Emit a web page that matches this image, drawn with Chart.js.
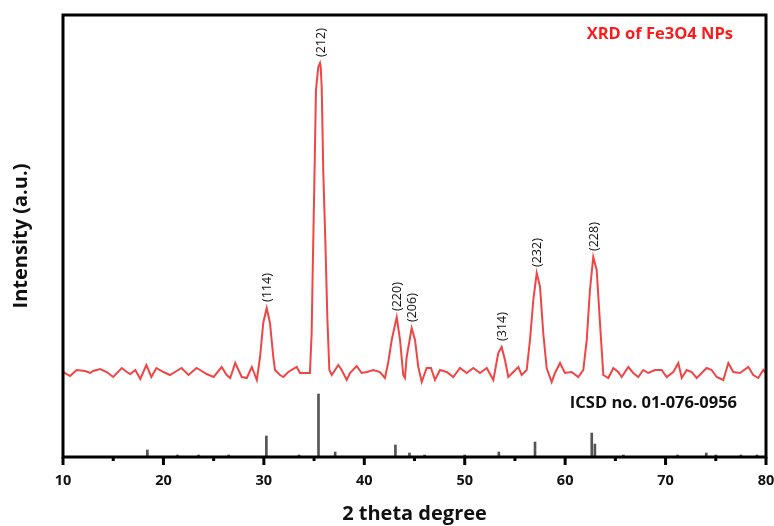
<!DOCTYPE html>
<html>
<head>
<meta charset="utf-8">
<script src="https://cdn.jsdelivr.net/npm/chart.js@4.4.1/dist/chart.umd.min.js"></script>
<style>
  html, body { margin: 0; padding: 0; background: #fff; }
</style>
</head>
<body>
<canvas id="xrdChart" width="774" height="526"></canvas>
<script>
// measured pattern (2 theta, intensity a.u.)
var twoTheta = [10.0, 10.03, 10.7, 11.36, 12.2, 12.7, 13.0, 13.7, 14.35, 15.0, 15.85, 16.35, 16.7, 17.2, 17.7,
    18.3, 18.8, 19.3, 20.0, 20.65, 21.15, 21.8, 22.5, 23.3, 23.65, 24.3, 25.0, 25.8, 26.3, 26.65, 27.15, 27.8,
    28.3, 28.8, 29.3, 29.62, 29.94, 30.28, 30.61, 30.94, 31.11, 31.61, 31.94, 32.43, 33.27, 33.6, 34.59, 34.76,
    34.86, 35.02, 35.19, 35.42, 35.59, 35.66, 35.76, 35.92, 36.12, 36.32, 36.52, 36.76, 37.41, 37.75, 38.25,
    38.58, 39.24, 39.74, 40.27, 40.9, 41.56, 42.06, 42.39, 42.73, 43.23, 43.56, 43.88, 44.05, 44.22, 44.72,
    45.05, 45.38, 45.72, 46.21, 46.64, 47.04, 47.54, 48.21, 48.86, 49.53, 50.2, 50.85, 51.52, 52.19, 52.85,
    53.34, 53.68, 54.01, 54.34, 54.84, 55.34, 55.67, 56.17, 56.5, 56.83, 57.17, 57.5, 57.82, 58.16, 58.66,
    58.99, 59.49, 59.98, 60.65, 61.31, 61.81, 62.15, 62.47, 62.8, 63.14, 63.47, 63.8, 64.3, 64.8, 65.29,
    65.63, 66.29, 66.79, 67.28, 67.78, 68.28, 68.95, 69.61, 70.11, 70.77, 71.27, 71.61, 72.1, 72.6, 73.1,
    73.6, 74.09, 74.59, 75.09, 75.75, 76.25, 76.74, 77.41, 78.24, 78.73, 79.23, 79.73, 80.0];
var intensity = [84, 85, 81, 87, 86, 84, 86, 88, 85, 80, 89, 85, 83, 87, 78,
    92, 80, 89, 85, 82, 85, 89, 82, 89, 87, 83, 80, 90, 82, 79, 94, 80,
    79, 90, 77, 100, 134, 149, 134, 100, 87, 82, 80, 85, 90, 84, 84, 124,
    184, 270, 367, 390, 394, 390, 370, 284, 217, 140, 87, 82, 92, 87, 77,
    84, 91, 84, 85, 87, 85, 79, 95, 117, 140, 117, 82, 79, 100, 129,
    117, 90, 75, 89, 89, 77, 87, 85, 80, 89, 84, 89, 84, 89, 77,
    104, 110, 97, 80, 85, 90, 82, 87, 117, 157, 184, 170, 124, 89, 75,
    84, 94, 84, 85, 80, 87, 117, 167, 200, 187, 134, 82, 79, 89, 85,
    80, 90, 84, 80, 87, 84, 87, 87, 80, 85, 94, 79, 87, 85, 79,
    84, 89, 87, 80, 77, 94, 85, 84, 90, 82, 79, 87, 84];

// reference pattern ICSD 01-076-0956
var stickPos = [18.4, 21.4, 23.5, 26.5, 30.25, 33.5, 35.44, 37.1, 43.1, 44.5, 46.0, 50.0, 53.4, 57.0,
    62.65, 62.96, 65.8, 71.2, 74.05, 75.0, 77.5, 79.1];
var stickInt = [7, 2, 2, 2, 21, 2, 63, 5, 12, 4, 2, 2, 5, 15, 24, 13, 2, 2, 4, 2, 2, 2];

// indexed peaks
var peakHkl = ['(114)', '(212)', '(220)', '(206)', '(314)', '(232)', '(228)'];
var peakPos = [30.28, 35.59, 43.23, 44.72, 53.68, 57.17, 62.8];
var peakTop = [149, 394, 140, 129, 110, 184, 200];

var xTicks = [10, 20, 30, 40, 50, 60, 70, 80];

var fontFam = '"Open Sans", "DejaVu Sans", sans-serif';

var framePlugin = {
    id: 'frame',
    afterDraw: function (chart) {
        var ctx = chart.ctx;
        var a = chart.chartArea;
        var xs = chart.scales.x;
        var ys = chart.scales.y;
        ctx.save();

        // peak labels, rotated, reading upward
        ctx.fillStyle = '#111';
        ctx.font = '12.5px ' + fontFam;
        ctx.textAlign = 'left';
        ctx.textBaseline = 'middle';
        for (var i = 0; i < peakHkl.length; i++) {
            var px = xs.getPixelForValue(peakPos[i]);
            var py = ys.getPixelForValue(peakTop[i]);
            ctx.save();
            ctx.translate(px + 1, py - 6);
            ctx.rotate(-Math.PI / 2);
            ctx.fillText(peakHkl[i], 0, 0);
            ctx.restore();
        }

        // texts
        ctx.textAlign = 'right';
        ctx.textBaseline = 'middle';
        ctx.font = 'bold 16.5px ' + fontFam;
        ctx.fillStyle = '#ff1a1a';
        ctx.fillText('XRD of Fe3O4 NPs', a.right - 33, a.top + 19);
        ctx.fillStyle = '#111';
        ctx.fillText('ICSD no. 01-076-0956', a.right - 29, ys.getPixelForValue(54));

        // frame
        ctx.strokeStyle = '#000';
        ctx.lineWidth = 3;
        ctx.strokeRect(a.left, a.top, a.right - a.left, a.bottom - a.top);

        // x ticks, major and minor
        for (var t = 10; t <= 80; t += 5) {
            var tx = xs.getPixelForValue(t);
            var len = (t % 10 === 0) ? 8 : 4;
            ctx.beginPath();
            ctx.moveTo(tx, a.bottom);
            ctx.lineTo(tx, a.bottom + len);
            ctx.stroke();
        }
        ctx.restore();
    }
};

new Chart(document.getElementById('xrdChart'), {
    type: 'line',
    data: {
        datasets: [{
            label: 'Fe3O4',
            data: twoTheta.map(function (t, i) { return { x: t, y: intensity[i] }; }),
            borderColor: '#f04545',
            borderWidth: 2,
            pointRadius: 0,
            tension: 0
        }, {
            type: 'bar',
            label: 'ICSD',
            data: stickPos.map(function (t, i) { return { x: t, y: stickInt[i] }; }),
            backgroundColor: '#555',
            barThickness: 2
        }]
    },
    options: {
        responsive: false,
        animation: false,
        layout: { padding: { top: 15, right: 8, left: 0, bottom: 0 } },
        plugins: {
            legend: { display: false },
            tooltip: { enabled: false }
        },
        scales: {
            x: {
                type: 'linear',
                min: 10,
                max: 80,
                offset: false,
                afterBuildTicks: function (s) { s.ticks = xTicks.map(function (v) { return { value: v }; }); },
                afterFit: function (s) { s.height = 69; s.paddingLeft = 0; s.paddingRight = 0; },
                grid: { display: false, drawTicks: false },
                border: { display: false },
                ticks: {
                    padding: 15,
                    color: '#111',
                    maxRotation: 0,
                    font: { family: fontFam, size: 14.5, weight: 'bold' }
                },
                title: {
                    display: true,
                    text: '2 theta degree',
                    color: '#111',
                    padding: { top: 0, bottom: 0 },
                    font: { family: fontFam, size: 20, weight: 'bold' }
                }
            },
            y: {
                min: 0,
                max: 442,
                afterFit: function (s) { s.width = 63; },
                grid: { display: false, drawTicks: false },
                border: { display: false },
                ticks: { display: false },
                title: {
                    display: true,
                    text: 'Intensity (a.u.)',
                    color: '#111',
                    padding: { top: 9, bottom: 0 },
                    font: { family: fontFam, size: 20, weight: 'bold' }
                }
            }
        }
    },
    plugins: [framePlugin]
});
</script>
</body>
</html>
